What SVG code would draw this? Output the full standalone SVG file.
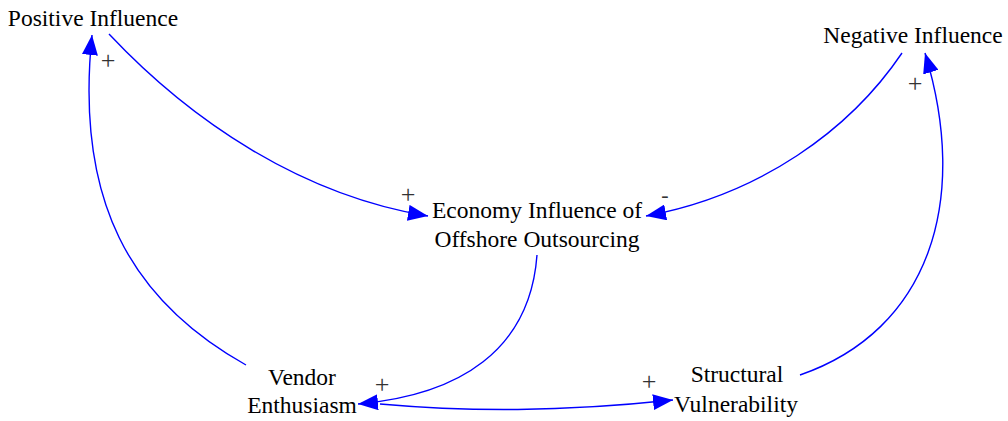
<svg xmlns="http://www.w3.org/2000/svg" width="1008" height="421" viewBox="0 0 1008 421">
<style>
.n{font-family:"Liberation Serif","Times New Roman",serif;font-size:23.5px;fill:#000;text-anchor:middle}
.s{font-family:"Liberation Serif","Times New Roman",serif;font-size:26px;fill:#333;text-anchor:middle}
.m{font-size:22px}
.e{fill:none;stroke:#0000ff;stroke-width:1.4}
</style>
<defs>
<marker id="ah" markerUnits="userSpaceOnUse" markerWidth="22" markerHeight="16" refX="20" refY="8" orient="auto">
<polygon points="0,0 20,8 0,16" fill="#0000ff"/>
</marker>
</defs>
<rect width="1008" height="421" fill="#fff"/>
<g id="connectors">
<path class="e" d="M109,34 C190,120 300,195 428,216" marker-end="url(#ah)"/>
<path class="e" d="M902,53 C850,130 760,195 646,216" marker-end="url(#ah)"/>
<path class="e" d="M537,255 C530,350 460,395 358,404" marker-end="url(#ah)"/>
<path class="e" d="M380,404 C470,412 560,412 673,400" marker-end="url(#ah)"/>
<path class="e" d="M246,365 C130,300 75,200 92,35" marker-end="url(#ah)"/>
<path class="e" d="M800,375 C930,330 970,200 925,53" marker-end="url(#ah)"/>
</g>
<g id="positive"><text class="n" x="93" y="26">Positive Influence</text></g>
<g id="negative"><text class="n" x="913" y="43">Negative Influence</text></g>
<g id="economy"><text class="n" x="537" y="218">Economy Influence of</text><text class="n" x="537" y="247">Offshore Outsourcing</text></g>
<g id="vendor"><text class="n" x="302" y="385">Vendor</text><text class="n" x="302" y="413">Enthusiasm</text></g>
<g id="structural"><text class="n" x="737" y="382">Structural</text><text class="n" x="736" y="412">Vulnerability</text></g>
<g id="labels">
<text class="s" x="108" y="69">+</text>
<text class="s" x="408" y="203">+</text>
<text class="s m" x="665" y="202">-</text>
<text class="s" x="915" y="92">+</text>
<text class="s" x="382" y="393">+</text>
<text class="s" x="649" y="390">+</text>
</g>
</svg>
